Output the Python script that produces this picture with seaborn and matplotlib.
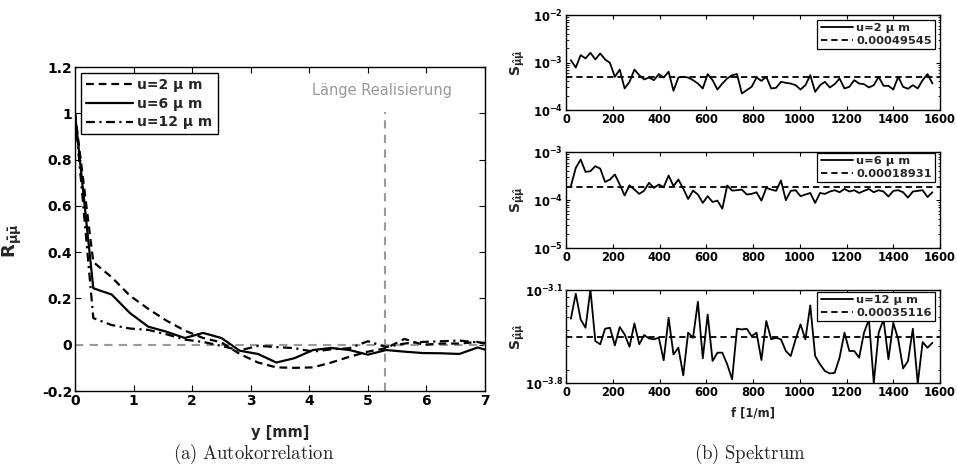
import numpy as np
import pandas as pd
import matplotlib
matplotlib.use("Agg")
import matplotlib.pyplot as plt
import seaborn as sns
from matplotlib.ticker import FixedLocator, NullFormatter, FuncFormatter, LogLocator

# ---------------- data ----------------
# (a) autocorrelation, lag in mm
lag_mm = [0.0, 0.3125, 0.625, 0.9375, 1.25, 1.5625, 1.875, 2.1875, 2.5, 2.8125,
          3.125, 3.4375, 3.75, 4.0625, 4.375, 4.6875, 5.0, 5.3125, 5.625, 5.9375,
          6.25, 6.5625, 6.875, 7.1875]
R_u2 = [1.0, 0.357, 0.292, 0.212, 0.155, 0.104, 0.061, 0.029, 0.010, -0.040,
        -0.077, -0.098, -0.100, -0.098, -0.077, -0.052, -0.030, -0.015, 0.025, 0.000,
        0.005, 0.005, 0.012, -0.010]
R_u6 = [1.0, 0.244, 0.217, 0.137, 0.078, 0.056, 0.029, 0.051, 0.029, -0.026,
        -0.040, -0.077, -0.058, -0.023, -0.014, -0.023, -0.043, -0.023, -0.030, -0.036,
        -0.037, -0.040, -0.012, -0.035]
R_u12 = [1.0, 0.115, 0.085, 0.070, 0.064, 0.045, 0.022, 0.012, -0.005, -0.025,
         -0.005, -0.010, -0.015, -0.030, -0.020, -0.015, 0.015, -0.010, 0.005, 0.012,
         0.015, 0.018, 0.010, 0.005]
series_labels = ["u=2 μ m", "u=6 μ m", "u=12 μ m"]
laenge_realisierung = 5.3

# (b) spectra, frequency grid in 1/m
freq = np.arange(1, 76) * 20.9
S_u2 = [1.12e-3, 7.85e-4, 1.43e-3, 1.22e-3, 1.6e-3, 1.16e-3, 1.55e-3, 1.16e-3, 9.8e-4, 5.0e-4,
        7.1e-4, 2.84e-4, 3.92e-4, 7.1e-4, 5.4e-4, 4.4e-4, 4.83e-4, 4.25e-4, 5.7e-4, 4.83e-4,
        6.4e-4, 2.54e-4, 4.83e-4, 5.0e-4, 4.83e-4, 4.25e-4, 3.61e-4, 2.84e-4, 5.7e-4, 4.25e-4,
        2.7e-4, 3.61e-4, 4.6e-4, 5.4e-4, 5.7e-4, 2.23e-4, 2.62e-4, 3.08e-4, 4.83e-4, 4.1e-4,
        5.0e-4, 2.84e-4, 2.93e-4, 3.92e-4, 3.73e-4, 3.6e-4, 3.33e-4, 2.7e-4, 3.33e-4, 5.4e-4,
        2.41e-4, 3.33e-4, 3.92e-4, 2.98e-4, 3.5e-4, 4.6e-4, 2.84e-4, 3.08e-4, 4.25e-4, 3.61e-4,
        3.5e-4, 2.98e-4, 3.33e-4, 5.0e-4, 3.23e-4, 3.23e-4, 2.7e-4, 5.0e-4, 3.08e-4, 2.8e-4,
        3.33e-4, 2.84e-4, 4.25e-4, 5.7e-4, 3.61e-4]
S_u6 = [1.94e-4, 4.67e-4, 6.97e-4, 3.85e-4, 3.98e-4, 5.06e-4, 4.52e-4, 2.38e-4, 2.67e-4, 3.4e-4,
        2.1e-4, 1.24e-4, 2.03e-4, 1.65e-4, 1.34e-4, 1.57e-4, 2.28e-4, 1.79e-4, 2.1e-4, 1.85e-4,
        3.24e-4, 1.94e-4, 2.67e-4, 1.73e-4, 1.05e-4, 1.57e-4, 1.3e-4, 8.7e-5, 1.2e-4, 9.1e-5,
        9.7e-5, 6.6e-5, 2.0e-4, 1.57e-4, 1.6e-4, 1.65e-4, 1.3e-4, 1.34e-4, 1.45e-4, 9.7e-5,
        1.79e-4, 1.65e-4, 1.55e-4, 2.55e-4, 9.9e-5, 1.55e-4, 1.6e-4, 1.2e-4, 1.3e-4, 1.4e-4,
        8.7e-5, 1.4e-4, 1.34e-4, 1.5e-4, 1.6e-4, 1.45e-4, 1.7e-4, 1.5e-4, 1.6e-4, 1.4e-4,
        1.55e-4, 1.7e-4, 1.45e-4, 1.6e-4, 1.5e-4, 1.18e-4, 1.55e-4, 1.6e-4, 1.45e-4, 1.12e-4,
        1.5e-4, 1.55e-4, 1.6e-4, 1.15e-4, 1.45e-4]
S_u12 = [4.83e-4, 7.44e-4, 4.77e-4, 4.13e-4, 8.0e-4, 3.28e-4, 3.1e-4, 4.06e-4, 4.13e-4, 3.04e-4,
         4.18e-4, 3.68e-4, 2.97e-4, 4.45e-4, 3.1e-4, 3.64e-4, 3.43e-4, 3.38e-4, 3.47e-4, 2.35e-4,
         4.91e-4, 2.6e-4, 2.92e-4, 1.81e-4, 3.79e-4, 3.47e-4, 6.48e-4, 2.43e-4, 5.2e-4, 2.32e-4,
         2.68e-4, 2.68e-4, 2.19e-4, 1.69e-4, 4.06e-4, 4.01e-4, 4.06e-4, 3.57e-4, 3.79e-4, 2.36e-4,
         4.64e-4, 3.38e-4, 3.47e-4, 3.38e-4, 2.76e-4, 2.53e-4, 3.38e-4, 4.38e-4, 3.38e-4, 6.08e-4,
         2.53e-4, 2.19e-4, 1.95e-4, 1.87e-4, 1.89e-4, 2.46e-4, 3.79e-4, 2.76e-4, 2.76e-4, 2.46e-4,
         3.79e-4, 4.77e-4, 1.59e-4, 3.79e-4, 4.77e-4, 2.39e-4, 4.5e-4, 3.38e-4, 2.04e-4, 2.32e-4,
         4.06e-4, 1.57e-4, 3.22e-4, 2.92e-4, 3.18e-4]
S_means = [0.00049545, 0.00018931, 0.00035116]
mean_labels = ["0.00049545", "0.00018931", "0.00035116"]

# ---------------- style ----------------
sns.set_theme(style="ticks", rc={"axes.edgecolor": "black", "axes.linewidth": 1.0,
                                 "xtick.color": "black", "ytick.color": "black"})
plt.rcParams['font.family'] = ['DejaVu Sans']
plt.rcParams['font.weight'] = 'bold'
plt.rcParams['axes.labelweight'] = 'bold'

GREY = "#9a9a9a"
DASH = (0, (3.5, 2.2))
DASHDOT = (0, (4.0, 2.0, 1.0, 2.0))

fig = plt.figure(figsize=(9.57, 4.69), dpi=100)

# ---------------- (a) ----------------
axL = fig.add_axes([75/957, 1-391/469, 410/957, 324/469])
axL.hlines(0, 0, 7, color=GREY, lw=1.5, linestyles=[(0, (4, 3))], zorder=1)
axL.vlines(laenge_realisierung, -0.2, 1.005, color=GREY, lw=1.5, linestyles=[(0, (4, 3))], zorder=1)
styles = [DASH, '-', DASHDOT]
for vals, lab, ls in zip([R_u2, R_u6, R_u12], series_labels, styles):
    sns.lineplot(x=lag_mm, y=vals, ax=axL, color='black', lw=1.6, linestyle=ls,
                 label=lab, zorder=3, sort=False)
axL.set_xlim(0, 7)
axL.set_ylim(-0.2, 1.2)
axL.xaxis.set_major_locator(FixedLocator(np.arange(0, 8)))
axL.yaxis.set_major_locator(FixedLocator(np.round(np.arange(-0.2, 1.21, 0.2), 1)))
axL.xaxis.set_major_formatter(FuncFormatter(lambda v, p: "%g" % round(v, 1)))
axL.yaxis.set_major_formatter(FuncFormatter(lambda v, p: "%g" % round(v, 1)))
axL.tick_params(direction='in', length=4, width=0.8, top=True, right=True, labelsize=10, pad=2)
axL.set_xlabel("y [mm]", fontsize=10.5, labelpad=0)
axL.xaxis.set_label_coords(0.5, -0.105)
axL.set_ylabel(r"$\mathbf{R}_{\bar{\mathrm{\mu}}\bar{\mathrm{\mu}}}$", fontsize=13)
axL.yaxis.set_label_coords(-0.125, 0.463)
axL.text(5.25, 1.10, "Länge Realisierung", color=GREY, fontsize=10.5, fontweight='normal',
         ha='center', va='center')
legL = axL.legend(loc='upper left', bbox_to_anchor=(0.015, 0.982), borderaxespad=0,
                  fancybox=False, edgecolor='black', framealpha=1, handlelength=3.4,
                  prop={'weight': 'bold', 'size': 10}, labelspacing=0.35, borderpad=0.35,
                  handletextpad=0.3)
legL.get_frame().set_linewidth(1.0)
for line in legL.get_lines():
    line.set_linewidth(1.6)

# ---------------- (b) ----------------
panels = [
    (15, 110, S_u2, (1e-4, 1e-2), [1e-4, 1e-3, 1e-2], 0.947),
    (152, 248, S_u6, (1e-5, 1e-3), [1e-5, 1e-4, 1e-3], 0.99),
    (290, 383, S_u12, (10**-3.8, 10**-3.1), [10**-3.8, 10**-3.1], 0.978),
]
def logfmt(v, p):
    e = np.log10(v)
    if abs(e - round(e)) < 1e-6:
        s = "%d" % round(e)
    else:
        s = "%.1f" % e
    return r"$\mathbf{10^{%s}}$" % s

axes_r = []
for i, (top, bot, vals, ylim, majors, legy) in enumerate(panels):
    ax = fig.add_axes([566/957, 1-bot/469, 374/957, (bot-top)/469])
    axes_r.append(ax)
    sns.lineplot(x=freq, y=vals, ax=ax, color='black', lw=1.3, label=series_labels[i], zorder=3)
    ax.axhline(S_means[i], color='black', lw=1.3, linestyle=DASH, label=mean_labels[i], zorder=2)
    ax.set_yscale('log')
    ax.set_xlim(0, 1600)
    ax.set_ylim(*ylim)
    ax.xaxis.set_major_locator(FixedLocator(np.arange(0, 1601, 200)))
    ax.xaxis.set_major_formatter(FuncFormatter(lambda v, p: "%d" % v))
    ax.yaxis.set_major_locator(FixedLocator(majors))
    ax.yaxis.set_major_formatter(FuncFormatter(logfmt))
    ax.yaxis.set_minor_locator(LogLocator(base=10, subs=np.arange(2, 10), numticks=20))
    ax.yaxis.set_minor_formatter(NullFormatter())
    ax.tick_params(which='major', direction='in', length=3, width=0.8, top=True, right=True,
                   labelsize=8.3, pad=2)
    ax.tick_params(which='minor', direction='in', length=1.8, width=0.6, top=False, right=True,
                   left=True)
    ax.set_ylabel(r"$\mathbf{S}_{\hat{\mathrm{\mu}}\hat{\mathrm{\mu}}}$", fontsize=10)
    ax.yaxis.set_label_coords(-0.105, 0.5)
    leg = ax.legend(loc='upper right', bbox_to_anchor=(0.987, legy), borderaxespad=0,
                    fancybox=False, edgecolor='black', framealpha=1, handlelength=2.8,
                    prop={'weight': 'bold', 'size': 8.2}, labelspacing=0.2, borderpad=0.3,
                    handletextpad=0.3)
    leg.get_frame().set_linewidth(0.9)
    ax.set_xlabel("")

axes_r[2].set_xlabel("f [1/m]", fontsize=8.3)
axes_r[2].xaxis.set_label_coords(0.5, -0.25)

# captions
fig.text(254/957, 1-454/469, r"$\mathrm{(a)\ Autokorrelation}$", math_fontfamily='cm',
         fontsize=13.5, ha='center', va='center')
fig.text(750/957, 1-454/469, r"$\mathrm{(b)\ Spektrum}$", math_fontfamily='cm',
         fontsize=13.5, ha='center', va='center')

fig.savefig("out.png", dpi=100)
